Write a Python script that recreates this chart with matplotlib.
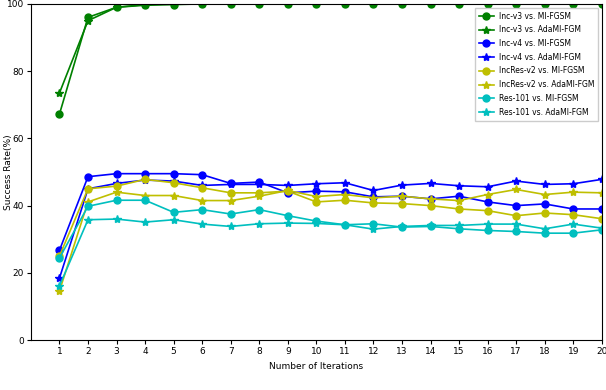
import matplotlib
matplotlib.use("Agg")
import matplotlib.pyplot as plt

iters = list(range(1, 21))

incv3_mi = [67.2, 96.0, 99.0, 99.6, 99.8, 100, 100, 100, 100, 100,
            100, 100, 100, 100, 100, 100, 100, 100, 100, 100]
incv3_ada = [73.5, 95.0, 99.0, 99.8, 100, 100, 100, 100, 100, 100,
             100, 100, 100, 100, 100, 100, 100, 100, 100, 100]
incv4_mi = [26.7, 48.6, 49.5, 49.5, 49.5, 49.2, 46.6, 47.0, 43.8, 44.3,
            44.1, 42.6, 42.8, 42.0, 42.8, 41.1, 40.0, 40.5, 39.0, 39.0]
incv4_ada = [18.4, 45.0, 46.6, 47.6, 47.3, 46.0, 46.3, 46.3, 46.0, 46.5,
             46.8, 44.5, 46.1, 46.6, 45.9, 45.6, 47.3, 46.3, 46.5, 47.8]
incres_mi = [25.0, 45.0, 45.8, 47.8, 46.8, 45.3, 43.8, 43.8, 44.3, 41.1,
             41.6, 40.8, 40.6, 40.0, 39.0, 38.5, 37.0, 37.8, 37.3, 36.1]
incres_ada = [14.6, 41.1, 44.0, 43.0, 43.0, 41.5, 41.5, 42.8, 44.5, 42.7,
              43.3, 42.3, 42.8, 42.0, 41.5, 43.3, 44.8, 43.3, 44.0, 43.8]
res_mi = [24.4, 39.8, 41.6, 41.6, 38.0, 38.8, 37.5, 38.8, 37.0, 35.4,
          34.3, 34.6, 33.6, 33.8, 33.1, 32.6, 32.3, 31.8, 31.8, 32.8]
res_ada = [16.1, 35.8, 36.0, 35.1, 35.8, 34.5, 33.8, 34.6, 34.8, 34.7,
           34.3, 33.0, 33.8, 34.1, 34.1, 34.5, 34.5, 33.1, 34.5, 33.3]

labels = ["Inc-v3 vs. MI-FGSM", "Inc-v3 vs. AdaMI-FGM",
          "Inc-v4 vs. MI-FGSM", "Inc-v4 vs. AdaMI-FGM",
          "IncRes-v2 vs. MI-FGSM", "IncRes-v2 vs. AdaMI-FGM",
          "Res-101 vs. MI-FGSM", "Res-101 vs. AdaMI-FGM"]
series = [incv3_mi, incv3_ada, incv4_mi, incv4_ada,
          incres_mi, incres_ada, res_mi, res_ada]
colors = ["g", "g", "b", "b", "y", "y", "c", "c"]
markers = ["o", "*", "o", "*", "o", "*", "o", "*"]

fig = plt.figure(figsize=(6.06, 3.9), dpi=100)
ax = fig.add_axes([0.051, 0.128, 0.942, 0.862])

for vals, lab, c, m in zip(series, labels, colors, markers):
    ms = 5 if m == "o" else 6
    ax.plot(iters, vals, color=c, marker=m, markersize=ms, linewidth=1.2, label=lab)

ax.set_xlim(0, 20)
ax.set_ylim(0, 100)
ax.set_xticks(iters)
ax.set_yticks([0, 20, 40, 60, 80, 100])
ax.tick_params(labelsize=6.5, length=3, pad=2)
ax.set_xlabel("Number of Iterations", fontsize=6.5, labelpad=4)
ax.set_ylabel("Success Rate(%)", fontsize=6.5)
# keep the y label just inside the left edge of the figure
ax.yaxis.set_label_coords(-0.031, 0.5)
ax.legend(loc="upper right", fontsize=5.5, handlelength=2.0, labelspacing=0.62,
          borderpad=0.5, handletextpad=0.6, fancybox=False, framealpha=1,
          edgecolor="#cccccc")

fig.savefig("out.png", dpi=100)
